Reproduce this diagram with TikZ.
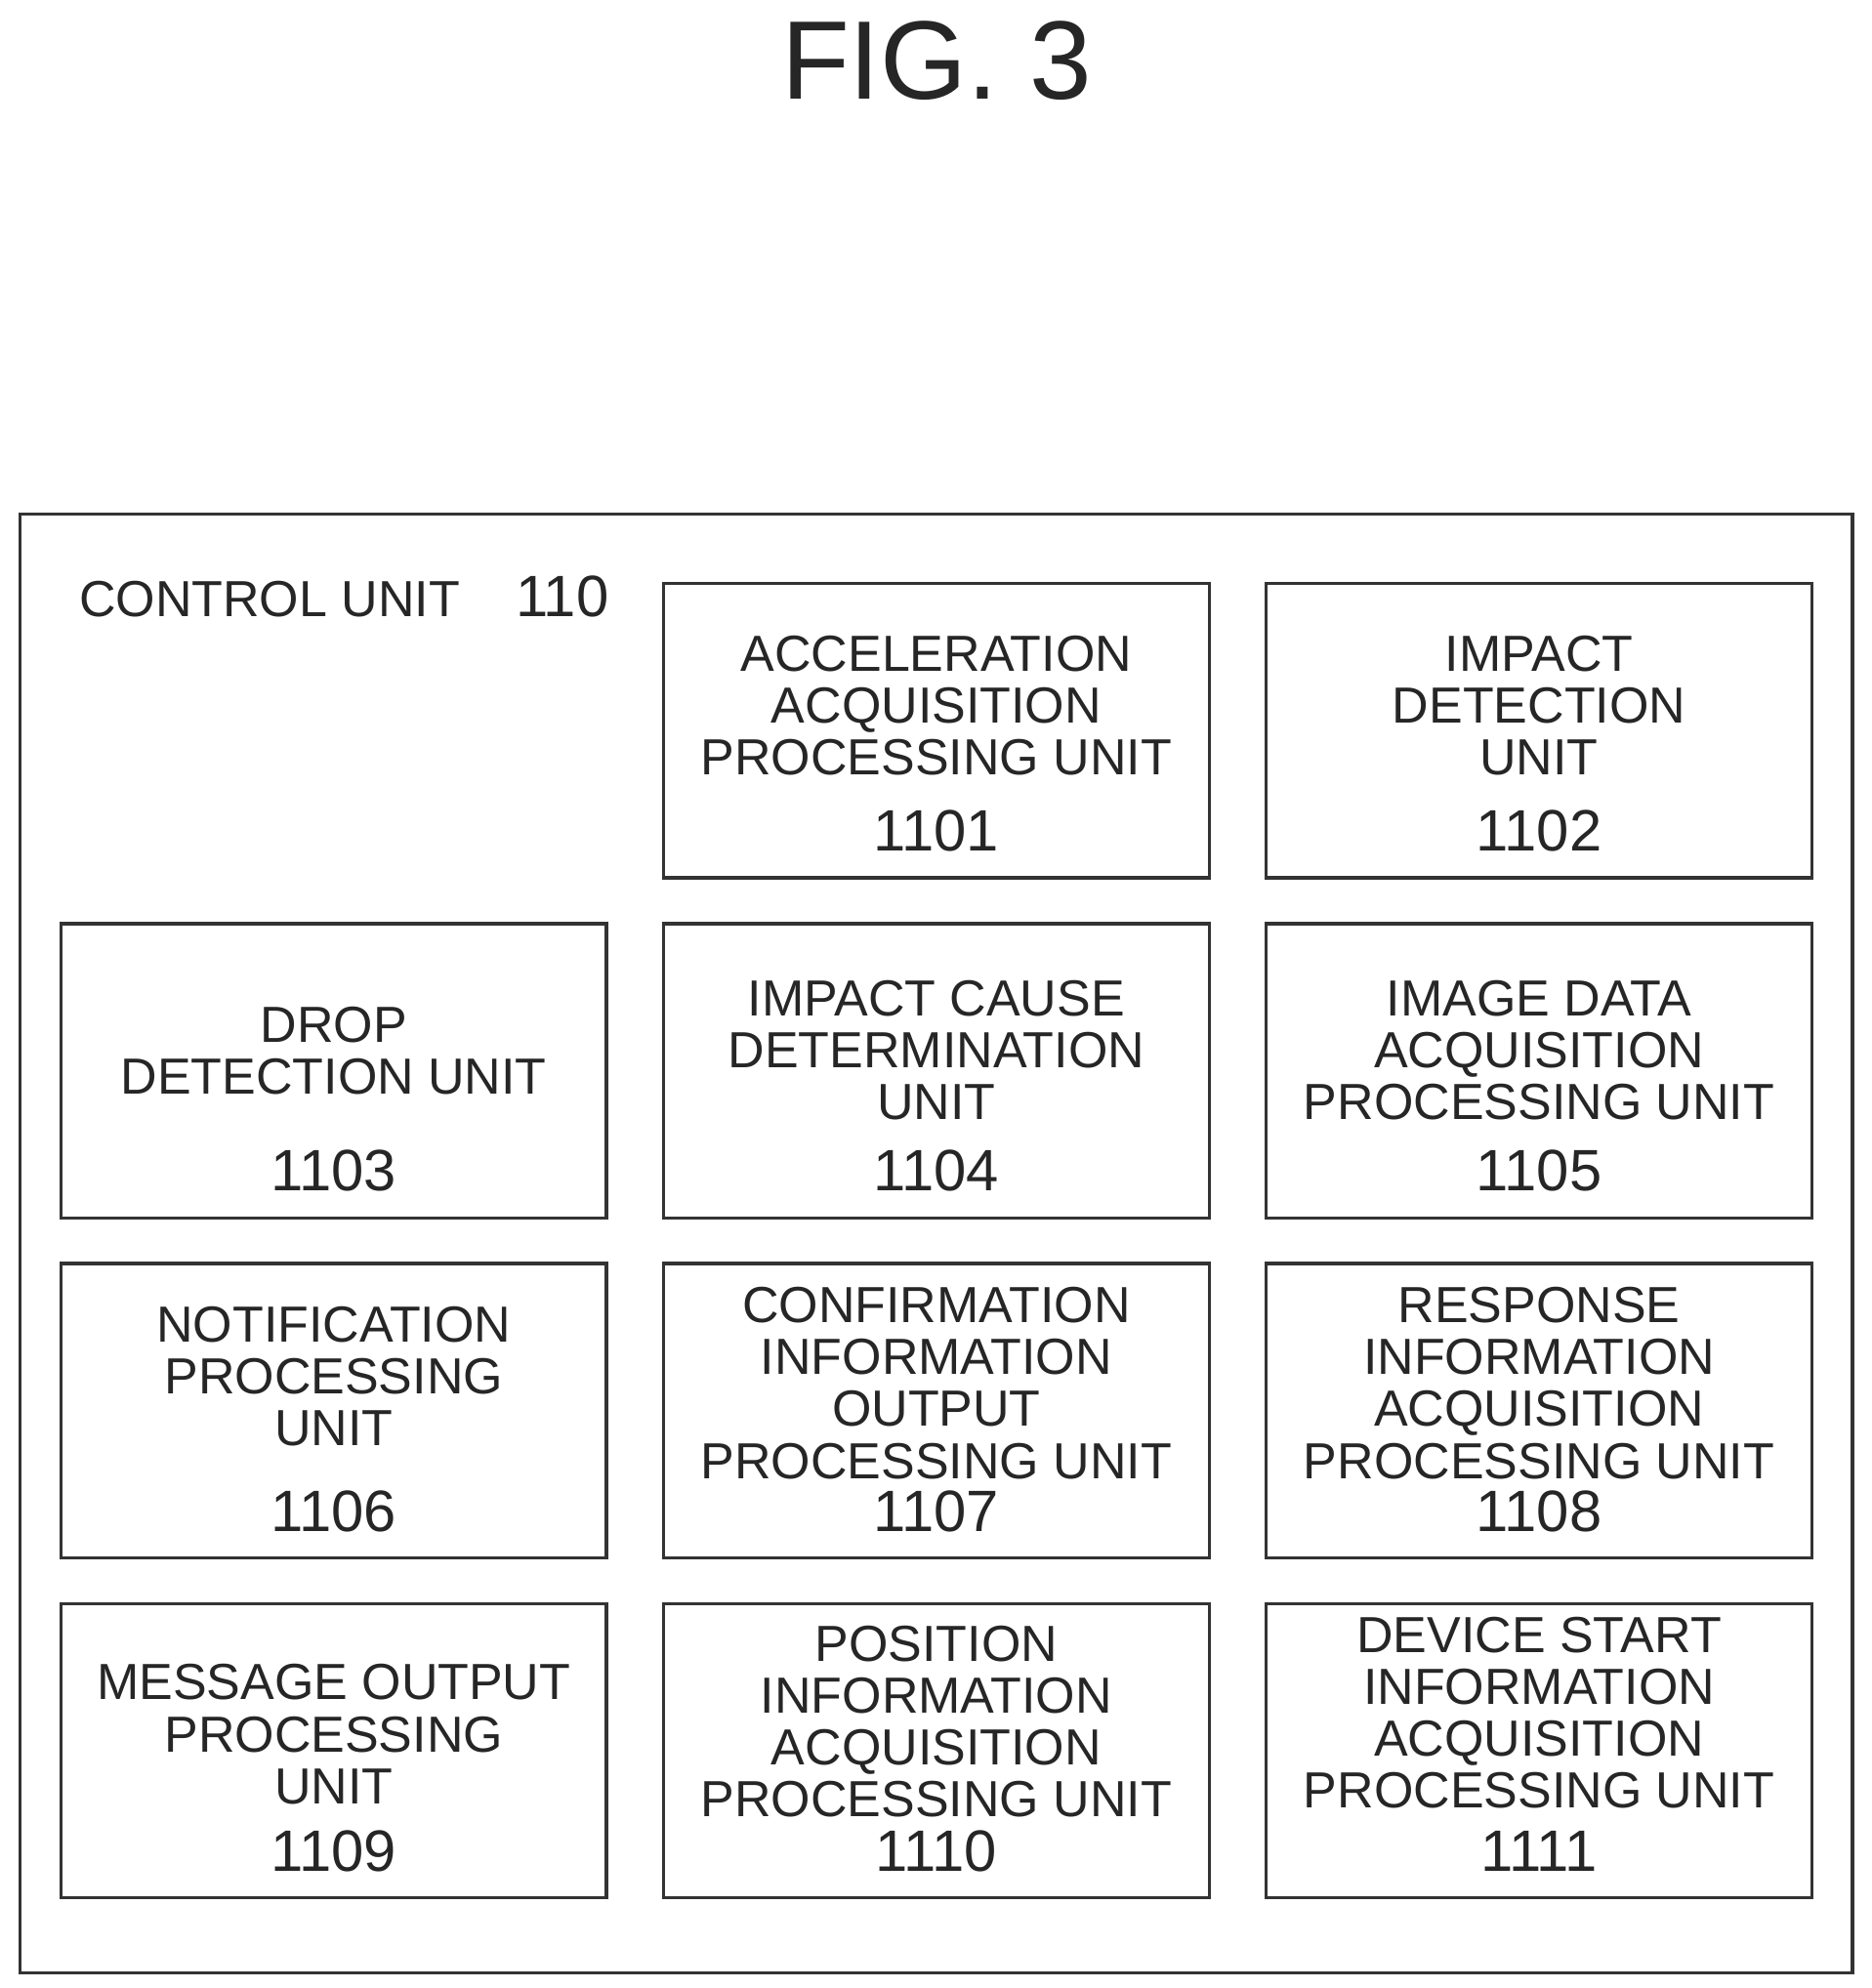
\documentclass[tikz,border=0pt]{standalone}
\usepackage{fontspec}
\setmainfont{Liberation Sans}
\begin{document}
\begin{tikzpicture}[x=0.5pt,y=-0.5pt,
  box/.style={draw=black!80,line width=1.3pt},
  lbl/.style={align=center,font=\fontsize{20}{20.5}\selectfont,text=black!85,inner sep=0},
  num/.style={font=\fontsize{23}{23}\selectfont,text=black!85,inner sep=0}]
\useasboundingbox (0,0) rectangle (1475,1567);
\node[font=\fontsize{44}{44}\selectfont,text=black!85] (title) at (738,48) {FIG. 3};
\draw[box] (16,405) rectangle (1460,1555);
\node[lbl,anchor=west] (cu) at (62,470) {CONTROL UNIT\hspace{1.1em}\fontsize{23}{23}\selectfont 110};
\newcommand{\ubox}[6]{%
  \draw[box] (#2,#3) rectangle ++(430,232);
  \node[lbl] (t#6) at (#2+215,#4) {#5};
  \node[num] (n#6) at (#2+215,#3+195) {#6};}
\ubox{a}{523}{460}{556}{ACCELERATION\\ACQUISITION\\PROCESSING UNIT}{1101}
\ubox{b}{998}{460}{556}{IMPACT\\DETECTION\\UNIT}{1102}
\ubox{c}{48}{728}{828}{DROP\\DETECTION UNIT}{1103}
\ubox{d}{523}{728}{828}{IMPACT CAUSE\\DETERMINATION\\UNIT}{1104}
\ubox{e}{998}{728}{828}{IMAGE DATA\\ACQUISITION\\PROCESSING UNIT}{1105}
\ubox{f}{48}{996}{1085}{NOTIFICATION\\PROCESSING\\UNIT}{1106}
\ubox{g}{523}{996}{1090}{CONFIRMATION\\INFORMATION\\OUTPUT\\PROCESSING UNIT}{1107}
\ubox{h}{998}{996}{1090}{RESPONSE\\INFORMATION\\ACQUISITION\\PROCESSING UNIT}{1108}
\ubox{i}{48}{1264}{1367}{MESSAGE OUTPUT\\PROCESSING\\UNIT}{1109}
\ubox{j}{523}{1264}{1357}{POSITION\\INFORMATION\\ACQUISITION\\PROCESSING UNIT}{1110}
\ubox{k}{998}{1264}{1350}{DEVICE START\\INFORMATION\\ACQUISITION\\PROCESSING UNIT}{1111}
\end{tikzpicture}
\end{document}
